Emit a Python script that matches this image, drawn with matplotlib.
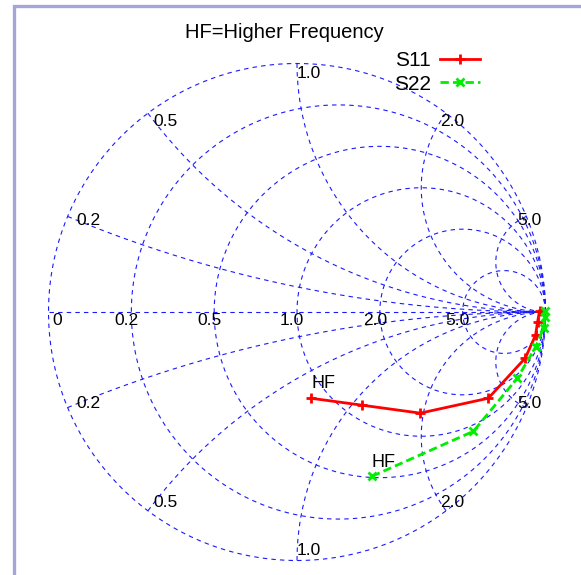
import matplotlib
matplotlib.use("Agg")
import matplotlib.pyplot as plt
import numpy as np
from matplotlib.patches import Rectangle

plt.rcParams["font.family"] = ["Liberation Sans", "DejaVu Sans"]
plt.rcParams["lines.scale_dashes"] = False

# --- data (reflection coefficient, real / imag) ---
s11_re = [0.056, 0.262, 0.496, 0.770, 0.919, 0.960, 0.968, 0.976]
s11_im = [-0.347, -0.375, -0.407, -0.347, -0.185, -0.093, -0.040, 0.004]
s22_re = [0.302, 0.710, 0.887, 0.960, 0.992, 0.998, 0.999]
s22_im = [-0.661, -0.480, -0.266, -0.141, -0.065, -0.020, 0.004]

r_values = [0.2, 0.5, 1.0, 2.0, 5.0]
x_values = [0.2, 0.5, 1.0, 2.0, 5.0]
r_labels = ["0", "0.2", "0.5", "1.0", "2.0", "5.0"]
x_labels = ["0.2", "0.5", "1.0", "2.0", "5.0"]

# --- figure / axes geometry ---
W, H = 581, 575
cx, cy, s = 297.0, 312.0, 248.5
fig = plt.figure(figsize=(W / 100, H / 100), dpi=100)
ax = fig.add_axes([0, 0, 1, 1])
ax.set_xlim(-cx / s, (W - cx) / s)
ax.set_ylim(-(H - cy) / s, cy / s)
ax.axis("off")

# frame
fig.patches.append(Rectangle((13.5 / W, -0.2), 1.5, 1.2 - 5.5 / H, transform=fig.transFigure,
                             fill=False, edgecolor="#a6a6d6", linewidth=2.4))

grid_kw = dict(color="#1a1aff", linewidth=0.8, dashes=(3.2, 3.0))
t = np.linspace(0, 2 * np.pi, 400)

# unit circle + constant resistance circles
ax.plot(np.cos(t), np.sin(t), **grid_kw)
for r in r_values:
    c, rad = r / (1 + r), 1 / (1 + r)
    ax.plot(c + rad * np.cos(t), rad * np.sin(t), **grid_kw)

# constant reactance arcs
rr = np.concatenate([[0.0], np.geomspace(1e-3, 1e4, 600)])
ax.plot([-1, 1], [0, 0], **grid_kw)
for xv in x_values:
    for sign in (1, -1):
        g = (rr + 1j * sign * xv - 1) / (rr + 1j * sign * xv + 1)
        ax.plot(g.real, g.imag, **grid_kw)

# resistance labels
for r, lab in zip([0.0] + r_values, r_labels):
    gx = (r - 1) / (r + 1)
    if lab == "0":
        ax.annotate(lab, (gx, 0), xytext=(4, -9), textcoords="offset pixels",
                    ha="left", va="center", fontsize=12.5)
    else:
        ax.annotate(lab, (gx, 0), xytext=(-5, -9), textcoords="offset pixels",
                    ha="center", va="center", fontsize=12.5)

# reactance labels
for xv, lab in zip(x_values, x_labels):
    for sign in (1, -1):
        g = (1j * sign * xv - 1) / (1j * sign * xv + 1)
        ax.text(0.96 * g.real, 0.96 * g.imag, lab, ha="left", va="center", fontsize=12.5)

# series
ax.plot(s11_re, s11_im, color="#ff0000", linewidth=2.0, marker="+", markersize=7,
        markeredgewidth=2.0, label="S11")
ax.plot(s22_re, s22_im, color="#00ee00", linewidth=2.0, dashes=(6, 3), marker="x",
        markersize=6, markeredgewidth=2.0, label="S22")

ax.annotate("HF", (s11_re[0], s11_im[0]), xytext=(1, 15), textcoords="offset pixels",
            ha="left", va="center", fontsize=13)
ax.annotate("HF", (s22_re[0], s22_im[0]), xytext=(-1, 14), textcoords="offset pixels",
            ha="left", va="center", fontsize=13)

fig.text(284 / W, 1 - 33 / H, "HF=Higher Frequency", ha="center", va="center", fontsize=14.5)

ax.legend(loc="upper right", bbox_to_anchor=(490 / W, 1 - 41 / H), bbox_transform=fig.transFigure,
          markerfirst=False, frameon=False, borderpad=0, handlelength=1.9, handletextpad=0.45,
          labelspacing=0.2, numpoints=1, fontsize=15)

fig.savefig("out.png", dpi=100)
